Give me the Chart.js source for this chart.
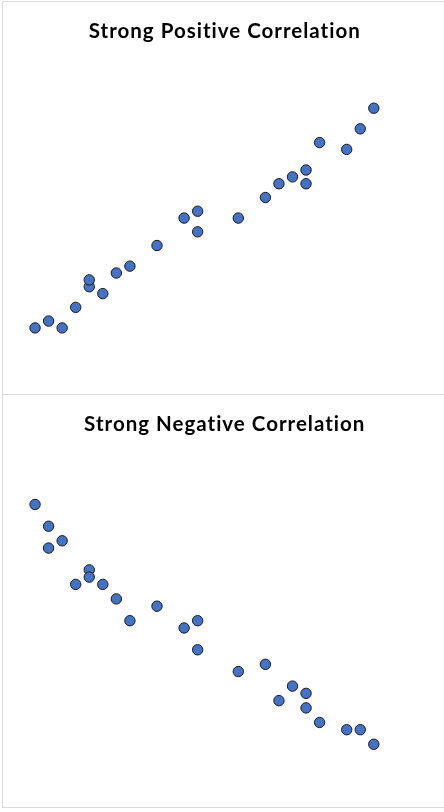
<!DOCTYPE html>
<html>
<head>
<meta charset="utf-8">
<script src="https://cdn.jsdelivr.net/npm/chart.js@4"></script>
<style>
  body { margin: 0; background: #fff; width: 444px; height: 812px; overflow: hidden; position: relative; }
  .box { position: absolute; left: 2px; width: 460px; border: 1px solid #d9d9d9; box-sizing: border-box; background: #fff; }
  #boxTop { top: 1px; height: 394px; }
  #boxBottom { top: 394px; height: 414px; }
  canvas { position: absolute; left: 0; top: 0; }
</style>
</head>
<body>
<div class="box" id="boxTop"><canvas id="posChart" width="441" height="392"></canvas></div>
<div class="box" id="boxBottom"><canvas id="negChart" width="441" height="412"></canvas></div>
<script>
const posX = [1, 2, 3, 4, 5, 5, 6, 7, 8, 10, 12, 13, 13, 16, 18, 19, 20, 21, 21, 22, 24, 25, 26];
const posY = [0, 1, 0, 3, 6, 7, 5, 8, 9, 12, 16, 17, 14, 16, 19, 21, 22, 23, 21, 27, 26, 29, 32];

const negX = [1, 2, 2, 3, 4, 5, 5, 6, 7, 8, 10, 12, 13, 13, 16, 18, 19, 20, 21, 21, 22, 24, 25, 26];
const negY = [33, 30, 27, 28, 22, 24, 23, 22, 20, 17, 19, 16, 17, 13, 10, 11, 6, 8, 7, 5, 3, 2, 2, 0];

// spread the title letters a little (also stops the "ti" ligature)
const spacing = {
    id: 'spacing',
    beforeDraw(chart) { chart.ctx.letterSpacing = '1px'; }
};

function makeChart(id, title, xs, ys, titlePad, pad) {
    const points = xs.map((x, i) => ({ x: x, y: ys[i] }));
    return new Chart(document.getElementById(id), {
        type: 'scatter',
        data: {
            datasets: [{
                data: points,
                backgroundColor: '#4472C4',
                borderColor: '#1a1a1a',
                borderWidth: 1,
                pointRadius: 5.2,
                pointHoverRadius: 5.2
            }]
        },
        options: {
            responsive: false,
            animation: false,
            layout: { padding: pad },
            plugins: {
                legend: { display: false },
                tooltip: { enabled: false },
                title: {
                    display: true,
                    text: title,
                    color: '#000',
                    font: { family: 'Lato', size: 20.5, weight: 'bold', lineHeight: 1.2 },
                    padding: titlePad
                }
            },
            scales: {
                x: { display: false, min: 0, max: 30 },
                y: { display: false, min: -5, max: 40 }
            }
        },
        plugins: [spacing]
    });
}

makeChart('posChart', 'Strong Positive Correlation', posX, posY,
    { top: 17.2, bottom: 9.5 }, { left: 18.5, right: 16, top: 0, bottom: 31.75 });
makeChart('negChart', 'Strong Negative Correlation', negX, negY,
    { top: 16.7, bottom: 17.3 }, { left: 18.5, right: 16, top: 0, bottom: 26.45 });
</script>
</body>
</html>
